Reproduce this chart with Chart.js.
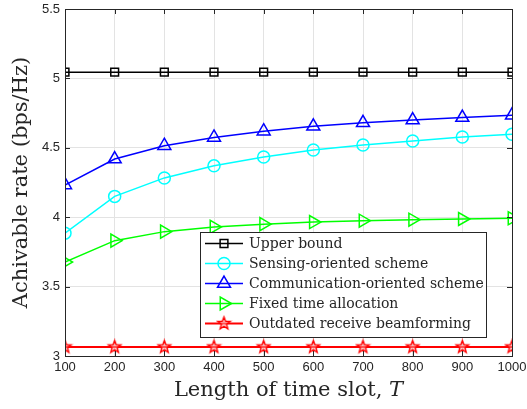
<!DOCTYPE html>
<html>
<head>
<meta charset="utf-8">
<script src="https://cdn.jsdelivr.net/npm/chart.js@4.4.1/dist/chart.umd.min.js"></script>
<style>
  html, body { margin: 0; padding: 0; background: #fff; }
  #wrap { width: 527px; height: 409px; }
</style>
</head>
<body>
<div id="wrap"><canvas id="chart"></canvas></div>
<script>
// Achievable rate vs length of time slot

const slotLengths = [100, 200, 300, 400, 500, 600, 700, 800, 900, 1000];
const yTicks = [3, 3.5, 4, 4.5, 5, 5.5];

const upperBound   = [5.045, 5.045, 5.045, 5.045, 5.045, 5.045, 5.045, 5.045, 5.045, 5.045];
const sensingRate  = [3.885, 4.150, 4.283, 4.370, 4.434, 4.484, 4.520, 4.549, 4.578, 4.597];
const commRate     = [4.232, 4.419, 4.515, 4.575, 4.620, 4.655, 4.680, 4.700, 4.718, 4.734];
const fixedRate    = [3.677, 3.831, 3.896, 3.930, 3.950, 3.965, 3.975, 3.982, 3.987, 3.992];
const outdatedRate = [3.065, 3.065, 3.065, 3.065, 3.065, 3.065, 3.065, 3.065, 3.065, 3.065];

const seriesNames = [
  'Upper bound',
  'Sensing-oriented scheme',
  'Communication-oriented scheme',
  'Fixed time allocation',
  'Outdated receive beamforming',
];

const TICK_COLOR = '#262626';
const SERIF = '"DejaVu Serif", "Liberation Serif", serif';
const SANS = '"Liberation Sans", Arial, sans-serif';

// five-pointed star marker, MATLAB style
function makeStar(color, r) {
  const s = Math.ceil(r * 2 + 4);
  const cv = document.createElement('canvas');
  cv.width = s; cv.height = s;
  const g = cv.getContext('2d');
  g.translate(s / 2, s / 2);
  g.beginPath();
  for (let i = 0; i < 10; i++) {
    const rad = i % 2 === 0 ? r : r * 0.42;
    const a = -Math.PI / 2 + i * Math.PI / 5;
    g.lineTo(rad * Math.cos(a), rad * Math.sin(a));
  }
  g.closePath();
  g.fillStyle = 'rgba(255,170,170,0.5)';
  g.fill();
  g.strokeStyle = color;
  g.lineWidth = 1.4;
  g.stroke();
  return cv;
}

const starImg = makeStar('#ff0000', 6.5);

function ds(label, data, color, style, radius, rotation, width) {
  return {
    label: label,
    data: slotLengths.map((x, i) => ({ x: x, y: data[i] })),
    borderColor: color,
    backgroundColor: 'rgba(0,0,0,0)',
    borderWidth: width || 1.5,
    pointStyle: style,
    pointRadius: radius,
    pointRotation: rotation || 0,
    pointBorderWidth: 1.5,
    pointBorderColor: color,
    pointBackgroundColor: 'rgba(0,0,0,0)',
    tension: 0,
  };
}

const datasets = [
  ds(seriesNames[0], upperBound, '#000000', 'rect', 5.5),
  ds(seriesNames[1], sensingRate, '#00ffff', 'circle', 6),
  ds(seriesNames[2], commRate, '#0000ff', 'triangle', 7.5),
  ds(seriesNames[3], fixedRate, '#00ff00', 'triangle', 7.5, 90),
  ds(seriesNames[4], outdatedRate, '#ff0000', starImg, 6.5, 0, 2),
];

// box, inward ticks, x title and legend drawn the MATLAB way
const matlabFrame = {
  id: 'matlabFrame',
  afterDatasetsDraw(chart) {
    const { ctx, chartArea: a, scales } = chart;
    ctx.save();
    ctx.strokeStyle = TICK_COLOR;
    ctx.lineWidth = 1;
    ctx.strokeRect(a.left + 0.5, a.top + 0.5, a.right - a.left, a.bottom - a.top);
    ctx.beginPath();
    slotLengths.forEach((v) => {
      const px = Math.round(scales.x.getPixelForValue(v)) + 0.5;
      ctx.moveTo(px, a.bottom); ctx.lineTo(px, a.bottom - 5);
      ctx.moveTo(px, a.top); ctx.lineTo(px, a.top + 5);
    });
    yTicks.forEach((v) => {
      const py = Math.round(scales.y.getPixelForValue(v)) + 0.5;
      ctx.moveTo(a.left, py); ctx.lineTo(a.left + 5, py);
      ctx.moveTo(a.right, py); ctx.lineTo(a.right - 5, py);
    });
    ctx.stroke();

    // x axis title with italic T
    ctx.fillStyle = TICK_COLOR;
    ctx.textBaseline = 'middle';
    const main = 'Length of time slot, ';
    ctx.font = '21px ' + SERIF;
    const w1 = ctx.measureText(main).width;
    ctx.font = 'italic 21px ' + SERIF;
    const w2 = ctx.measureText('T').width;
    const cx = (a.left + a.right) / 2;
    const x0 = cx - (w1 + w2) / 2;
    ctx.font = '21px ' + SERIF;
    ctx.fillText(main, x0, 391);
    ctx.font = 'italic 21px ' + SERIF;
    ctx.fillText('T', x0 + w1, 391);

    // legend
    const L = { left: 200, top: 232, right: 486, bottom: 337 };
    ctx.fillStyle = '#ffffff';
    ctx.fillRect(L.left, L.top, L.right - L.left, L.bottom - L.top);
    ctx.strokeStyle = TICK_COLOR;
    ctx.lineWidth = 1;
    ctx.strokeRect(L.left + 0.5, L.top + 0.5, L.right - L.left, L.bottom - L.top);
    ctx.textBaseline = 'middle';
    chart.data.datasets.forEach((d, i) => {
      const y = 243.5 + i * 20;
      ctx.strokeStyle = d.borderColor;
      ctx.lineWidth = d.borderWidth;
      ctx.beginPath();
      ctx.moveTo(205, y); ctx.lineTo(243, y);
      ctx.stroke();
      ctx.lineWidth = d.pointBorderWidth;
      ctx.fillStyle = 'rgba(0,0,0,0)';
      Chart.helpers.drawPoint(ctx, {
        pointStyle: d.pointStyle,
        radius: d.pointRadius,
        rotation: d.pointRotation,
        borderWidth: d.pointBorderWidth,
      }, 224, y);
      ctx.fillStyle = TICK_COLOR;
      ctx.font = '14px ' + SERIF;
      ctx.fillText(d.label, 249, y + 1);
    });
    ctx.restore();
  },
};

new Chart(document.getElementById('chart'), {
  type: 'line',
  data: { datasets: datasets },
  options: {
    responsive: true,
    maintainAspectRatio: false,
    animation: false,
    layout: { padding: { top: 9, right: 15, left: 0, bottom: 0 } },
    plugins: { legend: { display: false }, tooltip: { enabled: false } },
    scales: {
      x: {
        type: 'linear',
        min: 100, max: 1000,
        afterBuildTicks: (s) => { s.ticks = slotLengths.map((v) => ({ value: v })); },
        afterFit: (s) => { s.height = 53; s.paddingLeft = 0; s.paddingRight = 0; },
        ticks: {
          color: TICK_COLOR, font: { family: SANS, size: 13 }, padding: 4, maxRotation: 0,
          callback: (v) => String(v),
        },
        grid: { color: '#e3e3e3', drawTicks: false },
        border: { color: TICK_COLOR },
      },
      y: {
        min: 3, max: 5.5,
        afterBuildTicks: (s) => { s.ticks = yTicks.map((v) => ({ value: v })); },
        afterFit: (s) => { s.width = 65; s.paddingTop = 0; s.paddingBottom = 0; },
        ticks: {
          color: TICK_COLOR, font: { family: SANS, size: 13 }, padding: 5,
          callback: (v) => String(v),
        },
        grid: { color: '#e3e3e3', drawTicks: false },
        border: { color: TICK_COLOR },
        title: {
          display: true,
          text: 'Achivable rate (bps/Hz)',
          color: TICK_COLOR,
          font: { family: SERIF, size: 21 },
          padding: { top: 9, bottom: 0 },
        },
      },
    },
  },
  plugins: [matlabFrame],
});
</script>
</body>
</html>
